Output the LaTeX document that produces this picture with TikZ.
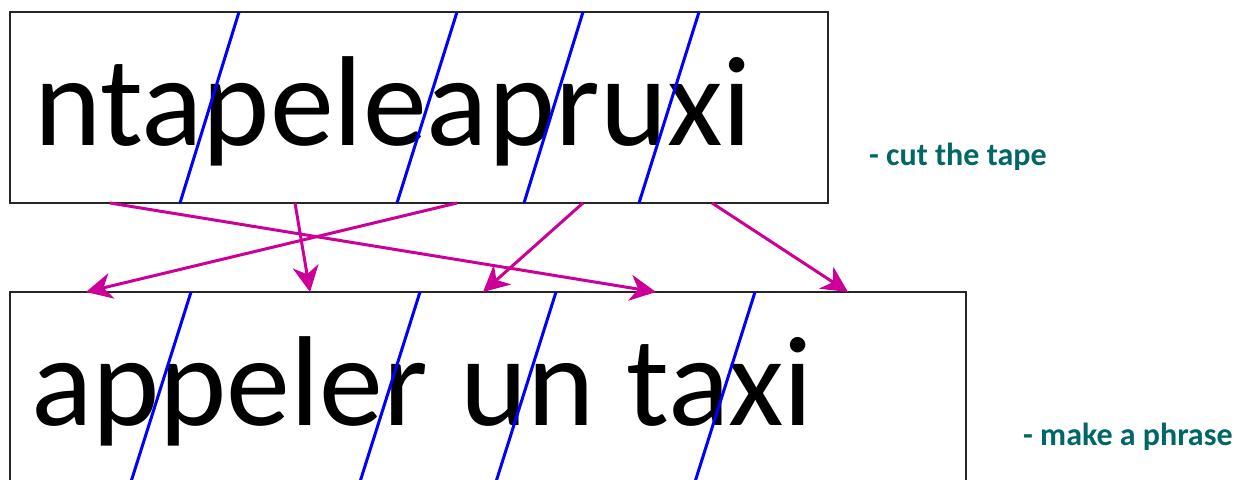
\documentclass[tikz,border=0pt]{standalone}
\usepackage{fontspec}
\setmainfont{Carlito}
\usetikzlibrary{arrows.meta}
\definecolor{arrowmag}{RGB}{204,0,153}
\definecolor{labelteal}{RGB}{0,102,102}
\definecolor{cutblue}{RGB}{0,0,255}
\tikzset{
  tapebox/.style={draw=black!85, line width=1.5pt, rectangle, inner sep=0pt},
  bigtext/.style={anchor=base west, inner sep=0pt, font=\fontsize{128}{150}\selectfont},
  cutline/.style={draw=cutblue, line width=3pt},
  movearrow/.style={draw=arrowmag, line width=3pt, -{Stealth[length=26pt, width=26pt, inset=8pt]}},
  steplabel/.style={anchor=base west, inner sep=0pt, text=labelteal, font=\fontsize{32}{38}\selectfont\bfseries}
}
\begin{document}
\begin{tikzpicture}[x=1pt, y=-1pt]
\useasboundingbox (0,0) rectangle (1241,479);
% boxes
\node[tapebox, minimum width=818pt, minimum height=191pt] (tape) at (419,107.5) {};
\node[tapebox, minimum width=956pt, minimum height=193pt] (phrase) at (488,388.5) {};
% texts
\node[bigtext] (tapetext) at (34,145) {ntapeleapruxi};
\node[bigtext] (phrasetext) at (31,425) {appeler\hspace{3pt} un\hspace{3pt} taxi};
% cut lines top
\coordinate (c1t) at (239,12);  \coordinate (c1b) at (180,203);
\coordinate (c2t) at (457,12);  \coordinate (c2b) at (397,203);
\coordinate (c3t) at (583,12);  \coordinate (c3b) at (524,203);
\coordinate (c4t) at (699,12);  \coordinate (c4b) at (639,203);
\draw[cutline] (c1t) -- (c1b);
\draw[cutline] (c2t) -- (c2b);
\draw[cutline] (c3t) -- (c3b);
\draw[cutline] (c4t) -- (c4b);
% cut lines bottom
\coordinate (d1t) at (191,292); \coordinate (d1b) at (130,485);
\coordinate (d2t) at (420,292); \coordinate (d2b) at (359,485);
\coordinate (d3t) at (556,292); \coordinate (d3b) at (495,485);
\coordinate (d4t) at (755,292); \coordinate (d4b) at (694,485);
\draw[cutline] (d1t) -- (d1b);
\draw[cutline] (d2t) -- (d2b);
\draw[cutline] (d3t) -- (d3b);
\draw[cutline] (d4t) -- (d4b);
% arrows
\coordinate (s1) at (110,203); \coordinate (e1) at (656,292);
\coordinate (s2) at (295,203); \coordinate (e2) at (310,292);
\coordinate (s3) at (457,203); \coordinate (e3) at (86,292);
\coordinate (s4) at (583,203); \coordinate (e4) at (483,292);
\coordinate (s5) at (712,203); \coordinate (e5) at (848,292);
\draw[movearrow] (s1) -- (e1);
\draw[movearrow] (s2) -- (e2);
\draw[movearrow] (s3) -- (e3);
\draw[movearrow] (s4) -- (e4);
\draw[movearrow] (s5) -- (e5);
% labels
\node[steplabel] (lab1) at (869,165) {- cut the tape};
\node[steplabel] (lab2) at (1023,445) {- make a phrase};
\end{tikzpicture}
\end{document}
